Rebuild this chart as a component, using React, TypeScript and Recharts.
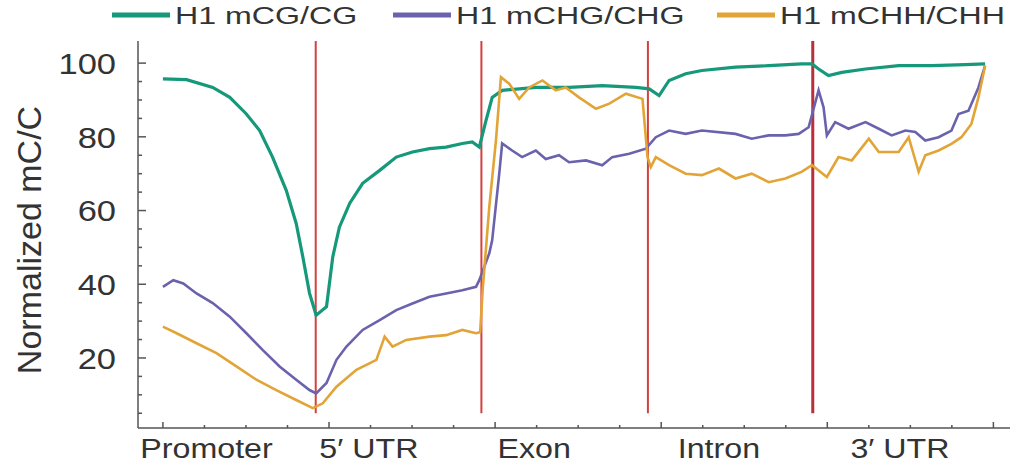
import React from 'react';
import { LineChart, Line, XAxis, YAxis, ReferenceLine, Legend } from 'recharts';

// ---------- data ----------
const REGION_LABELS = ['Promoter', '5\u2032 UTR', 'Exon', 'Intron', '3\u2032 UTR'];
const REGION_LABEL_POS = [1.05, 4.96, 8.94, 13.39, 17.75];
const REGION_BOUNDARIES = [3.68, 7.67, 11.68, 15.65];
const X_TICKS = [0, 1, 2, 3, 4, 5, 6, 7, 8, 9, 10, 11, 12, 13, 14, 15, 16, 17, 18, 19, 20];
const X_MAJOR = [0, 4, 8, 12, 16, 20];
const Y_TICKS = [5, 10, 15, 20, 25, 30, 35, 40, 45, 50, 55, 60, 65, 70, 75, 80, 85, 90, 95, 100];
const Y_MAJOR = [20, 40, 60, 80, 100];

const SERIES_NAMES = ['H1 mCG/CG', 'H1 mCHG/CHG', 'H1 mCHH/CHH'];
const SERIES_COLORS = ['#16987a', '#6a62ad', '#e2a437'];

const cgPos = [0, 0.57, 1.2, 1.61, 2.01, 2.33, 2.64, 2.97, 3.21, 3.37, 3.53, 3.69, 3.94, 4.09, 4.25, 4.5, 4.81, 5.22, 5.62, 6.01, 6.42, 6.82, 7.21, 7.45, 7.62, 7.78, 7.93, 8.17, 8.98, 9.78, 10.58, 11.39, 11.71, 11.95, 12.19, 12.59, 12.98, 13.79, 14.59, 15.38, 15.63, 15.79, 16.03, 16.35, 16.92, 17.72, 18.51, 19.32, 19.8];
const cgVal = [95.7, 95.5, 93.4, 90.7, 86.2, 81.7, 74.5, 65.5, 56.5, 47.4, 37.6, 31.6, 33.9, 47.4, 55.5, 62, 67.4, 70.9, 74.5, 75.9, 76.8, 77.2, 78.2, 78.6, 77.2, 84.4, 90.7, 92.6, 93.4, 93.4, 93.9, 93.4, 93.0, 91.2, 95.3, 97.1, 98, 98.9, 99.3, 99.8, 99.8, 98.4, 96.6, 97.5, 98.4, 99.3, 99.3, 99.6, 99.8];

const chgPos = [0, 0.25, 0.49, 0.81, 1.2, 1.61, 2.01, 2.4, 2.81, 3.21, 3.53, 3.69, 3.94, 4.18, 4.42, 4.81, 5.22, 5.62, 6.01, 6.42, 6.82, 7.21, 7.54, 7.62, 7.86, 7.93, 8.1, 8.17, 8.41, 8.65, 8.98, 9.22, 9.54, 9.78, 10.19, 10.58, 10.82, 11.23, 11.63, 11.87, 12.19, 12.59, 12.98, 13.79, 14.18, 14.59, 14.99, 15.31, 15.55, 15.79, 15.91, 15.99, 16.19, 16.51, 16.92, 17.24, 17.55, 17.88, 18.12, 18.36, 18.68, 18.99, 19.16, 19.4, 19.64, 19.8];
const chgVal = [39.3, 41.1, 40.2, 37.5, 34.9, 31.2, 26.7, 22.2, 17.7, 14.1, 11.3, 10.4, 13.2, 19.5, 23.1, 27.6, 30.3, 33, 34.8, 36.6, 37.5, 38.4, 39.3, 41.1, 48.4, 52, 70, 78.2, 76.3, 74.5, 76.3, 74, 75, 73.1, 73.6, 72.3, 74.5, 75.4, 76.8, 79.9, 81.7, 80.8, 81.7, 80.8, 79.5, 80.4, 80.4, 80.8, 82.6, 92.6, 88, 80.4, 84, 82.2, 84, 82.2, 80.4, 81.7, 81.3, 79, 79.9, 81.7, 86.2, 87.1, 93.4, 99.3];

const chhPos = [0, 0.33, 0.81, 1.29, 1.77, 2.25, 2.73, 3.21, 3.61, 3.85, 4.18, 4.66, 5.14, 5.34, 5.53, 5.86, 6.42, 6.82, 7.21, 7.54, 7.64, 7.7, 7.86, 8.02, 8.14, 8.34, 8.58, 8.82, 9.14, 9.46, 9.7, 10.02, 10.43, 10.75, 11.15, 11.55, 11.67, 11.75, 11.87, 12.19, 12.59, 12.98, 13.39, 13.79, 14.18, 14.59, 14.99, 15.38, 15.63, 15.99, 16.27, 16.59, 17.0, 17.24, 17.72, 17.96, 18.2, 18.36, 18.68, 18.99, 19.23, 19.47, 19.64, 19.8];
const chhVal = [28.5, 26.7, 24, 21.3, 17.7, 14.1, 11.3, 8.6, 6.4, 7.7, 12.2, 16.8, 19.5, 25.8, 23.1, 24.9, 25.8, 26.2, 27.6, 26.7, 27, 38.4, 61, 79, 96.2, 94.4, 90.3, 93.4, 95.3, 92.6, 93.4, 90.7, 87.6, 89, 91.7, 90.3, 74.5, 71.8, 74.5, 72.3, 70, 69.6, 71.4, 68.7, 70, 67.7, 68.7, 70.5, 72.3, 69.1, 74.5, 73.6, 79.5, 75.9, 75.9, 79.9, 70.5, 75, 76.3, 78.1, 79.9, 83.5, 90.7, 99.3];

const toRows = (pos: number[], val: number[]) => pos.map((x, i) => ({ x, v: val[i] }));
const seriesData = [toRows(cgPos, cgVal), toRows(chgPos, chgVal), toRows(chhPos, chhVal)];

// ---------- layout / style ----------
const W = 1018;
const H = 471;
const PLOT_LEFT = 138;
const PLOT_BOTTOM = 428;
const FONT = '"Liberation Sans", Arial, sans-serif';
const AXIS_COLOR = '#555';

const YTick = (props: any) => {
  const { y, payload } = props;
  const v = payload.value;
  const major = Y_MAJOR.includes(v);
  return (
    <g>
      <line x1={PLOT_LEFT} x2={PLOT_LEFT + (major ? 8 : 4)} y1={y} y2={y} stroke={AXIS_COLOR} strokeWidth={1.5} />
      {major && (
        <g transform={`translate(${PLOT_LEFT - 22},${y}) scale(1.15,1)`}>
          <text x={0} y={0} dy="0.36em" textAnchor="end" fontFamily={FONT} fontSize={30} fill="#333">
            {v}
          </text>
        </g>
      )}
    </g>
  );
};

const XTick = (props: any) => {
  const { x, payload, index } = props;
  const v = payload.value;
  const li = REGION_LABEL_POS.indexOf(v);
  if (li >= 0) {
    return (
      <g transform={`translate(${x},${PLOT_BOTTOM + 30}) scale(1.15,1)`}>
        <text x={0} y={0} textAnchor="middle" fontFamily={FONT} fontSize={28} fill="#333">
          {REGION_LABELS[li]}
        </text>
      </g>
    );
  }
  const major = X_MAJOR.includes(v);
  return (
    <line key={index} x1={x} x2={x} y1={PLOT_BOTTOM} y2={PLOT_BOTTOM - (major ? 6 : 3)} stroke={AXIS_COLOR} strokeWidth={1.5} />
  );
};

const renderLegend = () => {
  const starts = [112, 393, 717];
  return (
    <svg width={W} height={30} style={{ display: 'block' }}>
      {SERIES_NAMES.map((name, i) => (
        <g key={name}>
          <line x1={starts[i]} x2={starts[i] + 58} y1={15} y2={15} stroke={SERIES_COLORS[i]} strokeWidth={5} />
          <g transform={`translate(${starts[i] + 63},24) scale(1.34,1)`}>
            <text x={0} y={0} fontFamily={FONT} fontSize={24} fill="#333">
              {name}
            </text>
          </g>
        </g>
      ))}
    </svg>
  );
};

const YTitle = () => (
  <text x={29} y={240} transform="rotate(-90 29 240)" textAnchor="middle" dominantBaseline="central" fontFamily={FONT} fontSize={34} fill="#333">
    Normalized mC/C
  </text>
);

export default function App() {
  const xTicks = [...X_TICKS, ...REGION_LABEL_POS];
  return (
    <div style={{ position: 'absolute', left: 0, top: 0, width: W, height: H, background: '#fff' }}>
      <LineChart width={W} height={H} margin={{ top: 11, right: 8, bottom: 0, left: 0 }}>
        <Legend verticalAlign="top" align="left" content={renderLegend} wrapperStyle={{ top: 0, left: 0, width: W, height: 30 }} />
        <XAxis
          type="number"
          dataKey="x"
          domain={[-0.6, 20.4]}
          ticks={xTicks}
          interval={0}
          tick={<XTick />}
          tickLine={false}
          axisLine={{ stroke: AXIS_COLOR, strokeWidth: 1.5 }}
          height={43}
          allowDataOverflow
        />
        <YAxis
          type="number"
          domain={[1, 106]}
          ticks={Y_TICKS}
          interval={0}
          tick={<YTick />}
          tickLine={false}
          axisLine={{ stroke: AXIS_COLOR, strokeWidth: 1.5 }}
          width={138}
          allowDataOverflow
          label={{ content: () => <YTitle /> }}
        />
        {REGION_BOUNDARIES.map((b, i) => (
          <ReferenceLine
            key={b}
            segment={[{ x: b, y: 5 }, { x: b, y: 106 }]}
            stroke={i === 3 ? '#b8303c' : '#d4403f'}
            strokeWidth={i === 3 ? 3 : 2}
            ifOverflow="visible"
          />
        ))}
        {seriesData.map((d, i) => (
          <Line
            key={SERIES_NAMES[i]}
            data={d}
            dataKey="v"
            name={SERIES_NAMES[i]}
            type="linear"
            stroke={SERIES_COLORS[i]}
            strokeWidth={i === 0 ? 3.2 : 2.6}
            dot={false}
            isAnimationActive={false}
          />
        ))}
      </LineChart>
    </div>
  );
}
